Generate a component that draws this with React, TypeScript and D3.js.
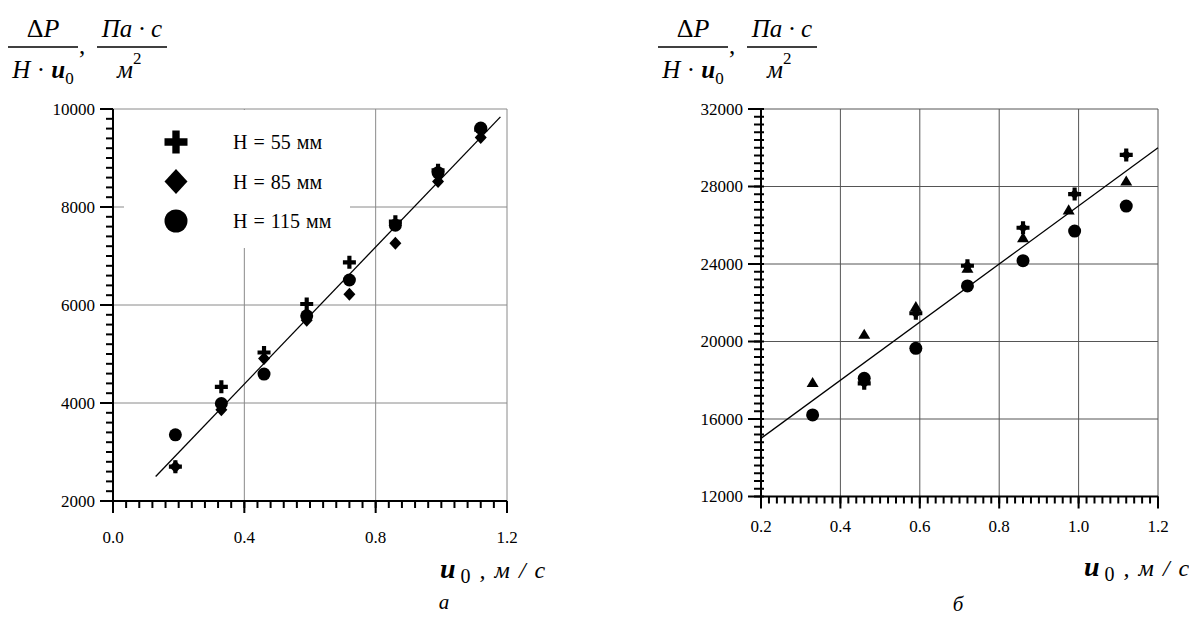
import React from "react";
import * as d3 from "d3";

// ---------- data (panel а) ----------
const uLeft = [0.19, 0.33, 0.46, 0.59, 0.72, 0.86, 0.99, 1.12];
const h55Left = [2700, 4330, 5030, 6020, 6870, 7700, 8750, 9580];
const h85Left = [2700, 3860, 4910, 5690, 6220, 7260, 8520, 9420];
const h115Left = [3350, 3990, 4590, 5780, 6510, 7630, 8700, 9610];
const fitLeftU = [0.13, 1.18];
const fitLeftV = [2500, 9840];
const legendLabels = ["H = 55 мм", "H = 85 мм", "H = 115 мм"];
const xTicksLeft = [0.0, 0.4, 0.8, 1.2];
const yTicksLeft = [2000, 4000, 6000, 8000, 10000];

// ---------- data (panel б) ----------
const uRightTri = [0.33, 0.46, 0.59, 0.72, 0.86, 0.975, 1.12];
const triRight = [17880, 20370, 21800, 23780, 25360, 26790, 28280];
const uRightCirc = [0.33, 0.46, 0.59, 0.72, 0.86, 0.99, 1.12];
const circRight = [16210, 18100, 19650, 22870, 24170, 25700, 26990];
const uRightCross = [0.46, 0.59, 0.72, 0.86, 0.99, 1.12];
const crossRight = [17840, 21460, 23910, 25870, 27610, 29630];
const fitRightU = [0.2, 1.2];
const fitRightV = [15000, 30000];
const xTicksRight = [0.2, 0.4, 0.6, 0.8, 1.0, 1.2];
const yTicksRight = [12000, 16000, 20000, 24000, 28000, 32000];

const FONT = "Liberation Serif";
const fs = (size: number, extra: React.CSSProperties = {}): React.CSSProperties => ({
  fontFamily: FONT,
  fontSize: size,
  ...extra,
});

type Marker = "plus" | "diamond" | "circle" | "triangle" | "cross";

function MarkerShape({ type, x, y, s }: { type: Marker; x: number; y: number; s: number }) {
  const h = s / 2;
  if (type === "circle") return <circle cx={x} cy={y} r={h} fill="#000" />;
  if (type === "diamond")
    return <path d={`M${x},${y - h * 1.08}L${x + h},${y}L${x},${y + h * 1.08}L${x - h},${y}Z`} fill="#000" />;
  if (type === "triangle")
    return <path d={`M${x},${y - h * 0.95}L${x + h},${y + h * 0.75}L${x - h},${y + h * 0.75}Z`} fill="#000" />;
  const t = s * 0.32;
  const plus = (
    <path
      d={`M${x - t / 2},${y - h}h${t}v${h - t / 2}h${h - t / 2}v${t}h${-(h - t / 2)}v${h - t / 2}h${-t}v${-(h - t / 2)}h${-(h - t / 2)}v${-t}h${h - t / 2}Z`}
      fill="#000"
    />
  );
  if (type === "plus") return plus;
  return (
    <g>
      {plus}
      <path d={`M${x},${y - h * 0.8}L${x + h * 0.8},${y}L${x},${y + h * 0.8}L${x - h * 0.8},${y}Z`} fill="#000" />
    </g>
  );
}

interface Series {
  u: number[];
  v: number[];
  type: Marker;
  size: number;
}

interface PanelProps {
  x0: number; x1: number; y0: number; y1: number;
  xDom: [number, number]; yDom: [number, number];
  xTicks: number[]; yTicks: number[];
  xMinor: number; yMinor: number;
  gridColor: string;
  series: Series[];
  fitU: number[]; fitV: number[];
  yTickMinorInside: number;
  xLabelDy: number;
  children?: React.ReactNode;
}

function Panel(p: PanelProps) {
  const xs = d3.scaleLinear().domain(p.xDom).range([p.x0, p.x1]);
  const ys = d3.scaleLinear().domain(p.yDom).range([p.y0, p.y1]);
  const xMinorTicks = d3.range(p.xDom[0], p.xDom[1] + 1e-9, p.xMinor);
  const yMinorTicks = d3.range(p.yDom[0], p.yDom[1] + 1e-9, p.yMinor);
  const line = d3
    .line<number>()
    .x((_, i) => xs(p.fitU[i]))
    .y((d) => ys(d));
  return (
    <g>
      {p.xTicks.slice(1).map((t) => (
        <line key={"gx" + t} x1={xs(t)} x2={xs(t)} y1={p.y0} y2={p.y1} stroke={p.gridColor} strokeWidth={1} />
      ))}
      {p.yTicks.slice(1).map((t) => (
        <line key={"gy" + t} x1={p.x0} x2={p.x1} y1={ys(t)} y2={ys(t)} stroke={p.gridColor} strokeWidth={1} />
      ))}
      {p.children}
      <line x1={p.x0} x2={p.x0} y1={p.y0 + 1} y2={p.y1} stroke="#000" strokeWidth={2} />
      <line x1={p.x0 - 1} x2={p.x1} y1={p.y0} y2={p.y0} stroke="#000" strokeWidth={2} />
      {yMinorTicks.map((t, i) => (
        <line key={"ym" + i} x1={p.x0 - 7} x2={p.x0 + p.yTickMinorInside} y1={ys(t)} y2={ys(t)} stroke="#000" strokeWidth={2} />
      ))}
      {p.yTicks.map((t) => (
        <line key={"yM" + t} x1={p.x0 - 13} x2={p.x0} y1={ys(t)} y2={ys(t)} stroke="#000" strokeWidth={2} />
      ))}
      {xMinorTicks.map((t, i) => (
        <line key={"xm" + i} x1={xs(t)} x2={xs(t)} y1={p.y0} y2={p.y0 + 7} stroke="#000" strokeWidth={2} />
      ))}
      {p.xTicks.map((t) => (
        <line key={"xM" + t} x1={xs(t)} x2={xs(t)} y1={p.y0} y2={p.y0 + 12} stroke="#000" strokeWidth={2} />
      ))}
      {p.yTicks.map((t) => (
        <text key={"yl" + t} x={p.x0 - 18} y={ys(t)} dy="0.35em" textAnchor="end" style={fs(17)}>
          {t}
        </text>
      ))}
      {p.xTicks.map((t) => (
        <text key={"xl" + t} x={xs(t)} y={p.y0 + p.xLabelDy} textAnchor="middle" style={fs(17)}>
          {d3.format(".1f")(t)}
        </text>
      ))}
      <path d={line(p.fitV) || ""} fill="none" stroke="#000" strokeWidth={1.3} />
      {p.series.map((s, si) =>
        s.u.map((u, i) => <MarkerShape key={si + "-" + i} type={s.type} x={xs(u)} y={ys(s.v[i])} s={s.size} />)
      )}
    </g>
  );
}

function YTitle({ dx }: { dx: number }) {
  return (
    <g>
      <text x={43 + dx} y={37} textAnchor="middle" style={fs(26)}>
        <tspan>Δ</tspan>
        <tspan style={{ fontStyle: "italic" }}>P</tspan>
      </text>
      <line x1={8 + dx} x2={78 + dx} y1={47} y2={47} stroke="#000" strokeWidth={1.5} />
      <text x={43 + dx} y={78} textAnchor="middle" style={fs(25)}>
        <tspan style={{ fontStyle: "italic" }}>H</tspan>
        <tspan> · </tspan>
        <tspan style={{ fontStyle: "italic", fontWeight: "bold" }}>u</tspan>
        <tspan style={{ fontSize: 17 }} dy={6}>0</tspan>
      </text>
      <text x={79 + dx} y={54} style={fs(25)}>,</text>
      <text x={132 + dx} y={37} textAnchor="middle" style={fs(25, { fontStyle: "italic" })}>
        Па · с
      </text>
      <line x1={97 + dx} x2={167 + dx} y1={47} y2={47} stroke="#000" strokeWidth={1.5} />
      <text x={117 + dx} y={78} style={fs(25, { fontStyle: "italic" })}>
        <tspan>м</tspan>
        <tspan style={{ fontSize: 17, fontStyle: "normal" }} dy={-14}>2</tspan>
      </text>
    </g>
  );
}

function XTitle({ x, y }: { x: number; y: number }) {
  return (
    <text x={x} y={y} style={fs(24)}>
      <tspan style={{ fontStyle: "italic", fontWeight: "bold", fontSize: 28 }}>u</tspan>
      <tspan style={{ fontSize: 20 }} dy={5}> 0</tspan>
      <tspan style={{ fontStyle: "italic", wordSpacing: 3 }} dy={-5}> , м / с</tspan>
    </text>
  );
}

export default function App() {
  const leftSeries: Series[] = [
    { u: uLeft, v: h55Left, type: "plus", size: 13 },
    { u: uLeft, v: h85Left, type: "diamond", size: 12 },
    { u: uLeft, v: h115Left, type: "circle", size: 13 },
  ];
  const rightSeries: Series[] = [
    { u: uRightCross, v: crossRight, type: "cross", size: 13 },
    { u: uRightTri, v: triRight, type: "triangle", size: 12 },
    { u: uRightCirc, v: circRight, type: "circle", size: 13 },
  ];
  const legendTypes: Marker[] = ["plus", "diamond", "circle"];
  return (
    <svg width={1189} height={618} style={{ position: "absolute", left: 0, top: 0, background: "#fff" }}>
      <rect width={1189} height={618} fill="#fff" />
      <Panel
        x0={113} x1={507} y0={501} y1={109}
        xDom={[0, 1.2]} yDom={[2000, 10000]}
        xTicks={xTicksLeft} yTicks={yTicksLeft}
        xMinor={0.04} yMinor={200}
        gridColor="#8a8a8a"
        series={leftSeries}
        fitU={fitLeftU} fitV={fitLeftV}
        yTickMinorInside={0}
        xLabelDy={42}
      >
        <rect x={124} y={110} width={226} height={138} fill="#fff" />
        {legendLabels.map((l, i) => (
          <g key={l}>
            <MarkerShape type={legendTypes[i]} x={176} y={142 + i * 39.5} s={23} />
            <text x={233} y={142 + i * 39.5} dy="0.35em" style={fs(20, { wordSpacing: 1 })}>
              {l}
            </text>
          </g>
        ))}
      </Panel>
      <Panel
        x0={761} x1={1158} y0={496.5} y1={109}
        xDom={[0.2, 1.2]} yDom={[12000, 32000]}
        xTicks={xTicksRight} yTicks={yTicksRight}
        xMinor={0.02} yMinor={400}
        gridColor="#555"
        series={rightSeries}
        fitU={fitRightU} fitV={fitRightV}
        yTickMinorInside={3}
        xLabelDy={35}
      />
      <YTitle dx={0} />
      <YTitle dx={650} />
      <XTitle x={440} y={578} />
      <XTitle x={1084} y={576} />
      <text x={444} y={609} textAnchor="middle" style={fs(21, { fontStyle: "italic" })}>а</text>
      <text x={958} y={611} textAnchor="middle" style={fs(21, { fontStyle: "italic" })}>б</text>
    </svg>
  );
}
